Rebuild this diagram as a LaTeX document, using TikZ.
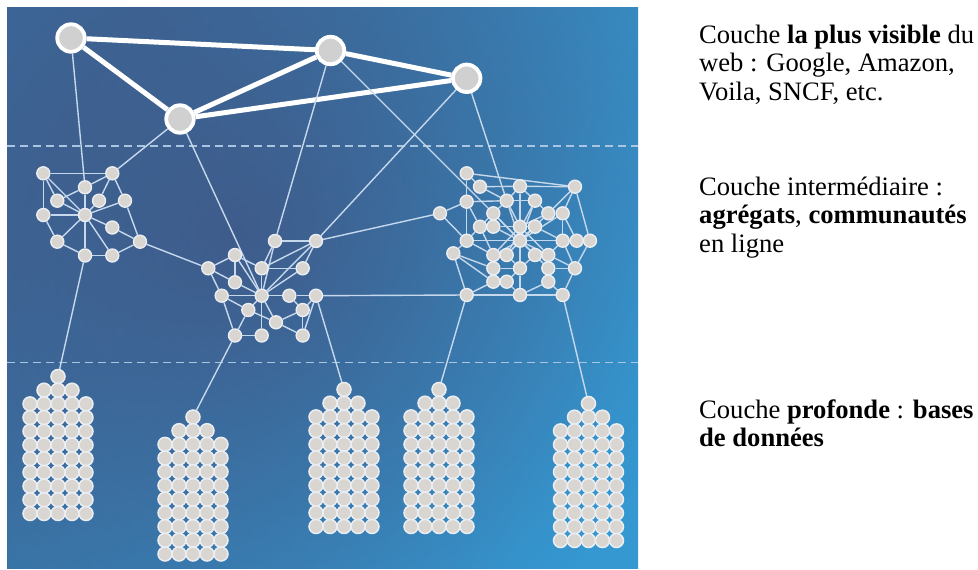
\documentclass[tikz,border=0pt]{standalone}
\usepackage{fontspec}
\setmainfont{Liberation Serif}
\usetikzlibrary{fadings}
\pgfdeclarelayer{bg}
\pgfdeclarelayer{edges}
\pgfsetlayers{bg,edges,main}
\definecolor{bgTL}{HTML}{3B6C9D}
\definecolor{bgBR}{HTML}{3598D1}
\definecolor{blob}{HTML}{414F7C}
\definecolor{dotfill}{HTML}{D9D6D2}
\definecolor{dotline}{HTML}{EAEDF2}
\definecolor{linkcol}{HTML}{C6D8EC}
\definecolor{dashcol}{HTML}{A9C5E2}
\definecolor{hubfill}{HTML}{D0D0D0}
\tikzfading[name=blobfade, inner color=transparent!30, outer color=transparent!100]
\newcommand{\dbstack}[3]{%
  \node[cell] (#1top) at (#2,#3) {};
  \foreach \k in {1,2,3} \node[cell] (#1a\k) at ({#2+14*(\k-2)},{#3+13.7}) {};
  \foreach \j in {0,...,8}
    \foreach \k in {1,...,5}
      \node[cell] (#1c\j x\k) at ({#2+14*(\k-3)},{#3+27.4+13.7*\j}) {};
}
\begin{document}
\begin{tikzpicture}[x=1pt,y=-1pt,
  dot/.style={circle, minimum size=13pt, inner sep=0pt, fill=dotfill, draw=dotline, line width=1.4pt},
  cell/.style={circle, minimum size=14pt, inner sep=0pt, fill=dotfill, draw=dotline, line width=1.5pt},
  hub/.style={circle, minimum size=27.5pt, inner sep=0pt, fill=hubfill, draw=white, line width=3.8pt},
  link/.style={draw=linkcol, line width=1.4pt},
  trunk/.style={draw=white, line width=5pt},
  sep/.style={draw=dashcol, line width=1.6pt, dash pattern=on 8pt off 5pt},
  lbl/.style={anchor=base west, inner sep=0pt, font=\fontsize{26.6pt}{29pt}\selectfont}]
\useasboundingbox (0,0) rectangle (978,570);
\begin{pgfonlayer}{bg}
  \fill[white] (0,0) rectangle (978,570);
  \begin{scope}
    \clip (7,7) rectangle (638,568);
    \shade[top color=bgTL, bottom color=bgBR, shading angle=60] (7,7) rectangle (638,568);
    \fill[blob, path fading=blobfade] (240,235) circle (470);
  \end{scope}
  \draw[sep] (7,146) -- (638,146);
  \draw[sep] (7,362.5) -- (638,362.5);
\end{pgfonlayer}
% top layer
\node[hub] (A) at (71,38) {};
\node[hub] (B) at (180,119) {};
\node[hub] (C) at (330.5,50.5) {};
\node[hub] (D) at (466.7,78.3) {};
% left cluster
\foreach \n/\x/\y in {L1/43.3/173.3, L2/112.3/173.3, L3/85/187.3, L4/57.3/200.7, L5/99/200.7,
  L6/125/200.7, L7/43.3/215, L8/85/215, L9/112.3/227.5, L10/57.3/241.7, L11/140/241.7,
  L12/85/255.5, L13/112.3/255.5}
  \node[dot] (\n) at (\x,\y) {};
% center cluster
\foreach \n/\x/\y in {M1/275/241, M2/316/241, M3/235/255, M4/208.3/268.3, M5/261.7/268.3,
  M6/302.7/268.3, M7/235/282.3, M8/221.7/295.7, M9/261.7/295.7, M10/289.3/295.7, M11/316/295.7,
  M12/248.3/310, M13/302.7/310, M14/276/322.3, M15/235/335.5, M16/261.7/335.5, M17/302.7/335.5}
  \node[dot] (\n) at (\x,\y) {};
% right cluster
\foreach \n/\x/\y in {r1/466.7/173.3, r2/480/186.7, r3/520/186.3, r4/575/186.7, r5/466.7/201.7,
  r6/506.7/200.7, r7/535/200.7, r8/440/213.3, r9/493.3/213.3, r10/548.3/213.3, r11/562.7/213.3,
  r12/480/226.7, r13/493.3/226.7, r14/520/226.7, r15/535/226.7, r16/466.7/240.7, r17/520/240.7,
  r18/562.7/240.7, r19/576.7/240.7, r20/590/240.7, r21/453.3/253.3, r22/493.3/255, r23/506.7/255,
  r24/535/255, r25/548.3/255, r26/493.3/268.3, r27/520/268.3, r28/548.3/268.3, r29/575/268.3,
  r30/493.3/281.7, r31/506.7/281.7, r32/548.3/281.7, r33/466.7/295, r34/520/295, r35/562.7/295}
  \node[dot] (\n) at (\x,\y) {};
% databases
\dbstack{sa}{58}{376.5}
\dbstack{sb}{193}{417}
\dbstack{sc}{344}{389.5}
\dbstack{sd}{439}{389.5}
\dbstack{se}{588.5}{403.5}
% connectors
\begin{pgfonlayer}{edges}
  \foreach \a/\b in {A/C, A/B, B/C, B/D, C/D}
    \draw[trunk] (\a) -- (\b);
  \foreach \a/\b in {A/L3, B/L2, B/M9, C/M1, C/r9, D/r6, D/M2, M2/r8, L11/M4, M11/r33,
    L12/satop, M15/sbtop, M11/sctop, r33/sdtop, r35/setop,
    L1/L2, L1/L7, L1/L4, L1/L8, L3/L2, L3/L4, L3/L8, L2/L5, L2/L6, L4/L8, L7/L8, L5/L8, L6/L8,
    L6/L11, L8/L9, L9/L11, L8/L10, L7/L10, L8/L12, L8/L13, L10/L12, L12/L13, L13/L11,
    M1/M2, M1/M5, M1/M9, M2/M5, M2/M6, M2/M9, M3/M4, M3/M5, M3/M7, M3/M9, M4/M7, M4/M8,
    M5/M6, M5/M9, M6/M9, M7/M9, M8/M9, M8/M12, M8/M15, M9/M10, M10/M11, M9/M12, M9/M14,
    M9/M16, M12/M14, M12/M15, M15/M16, M14/M13, M14/M17, M13/M11, M11/M17, M13/M17, M10/M13,
    r1/r4, r2/r4, r1/r2, r1/r5, r2/r3, r3/r4, r2/r6, r3/r6, r3/r7, r3/r17,
    r5/r6, r5/r8, r5/r12, r5/r16, r6/r7, r6/r9, r6/r17, r6/r14, r7/r10, r7/r17, r7/r23,
    r4/r11, r4/r20, r4/r10, r10/r11, r10/r17, r10/r14, r11/r17, r11/r19, r11/r18,
    r8/r16, r9/r12, r9/r13, r9/r17, r9/r24,
    r12/r13, r12/r16, r12/r22, r13/r14, r13/r17, r14/r15, r14/r17, r14/r22, r14/r25,
    r15/r17, r15/r18, r15/r23,
    r16/r21, r16/r22, r16/r17, r17/r22, r17/r23, r17/r24, r17/r25, r17/r18, r17/r19,
    r17/r27, r17/r28, r18/r19, r19/r20, r18/r29, r20/r29, r18/r25,
    r21/r26, r21/r33, r21/r30, r22/r23, r22/r26, r23/r27, r24/r25, r24/r27, r25/r28, r25/r29,
    r26/r30, r26/r27, r27/r31, r27/r34, r28/r32, r28/r29, r29/r35,
    r30/r31, r30/r33, r31/r34, r32/r34, r32/r35, r33/r34, r34/r35}
    \draw[link] (\a) -- (\b);
\end{pgfonlayer}
% labels
\node[lbl] (t1a) at (699,43) {Couche \textbf{la plus visible} du};
\node[lbl] (t1b) at (699,71.7) {web : Google, Amazon,};
\node[lbl] (t1c) at (699,100.4) {Voila, SNCF, etc.};
\node[lbl] (t2a) at (699,195) {Couche intermédiaire :};
\node[lbl] (t2b) at (699,223.7) {\textbf{agrégats}, \textbf{communautés}};
\node[lbl] (t2c) at (699,252.4) {en ligne};
\node[lbl] (t3a) at (699,418) {Couche \textbf{profonde} : \textbf{bases}};
\node[lbl] (t3b) at (699,446.7) {\textbf{de données}};
\end{tikzpicture}
\end{document}
